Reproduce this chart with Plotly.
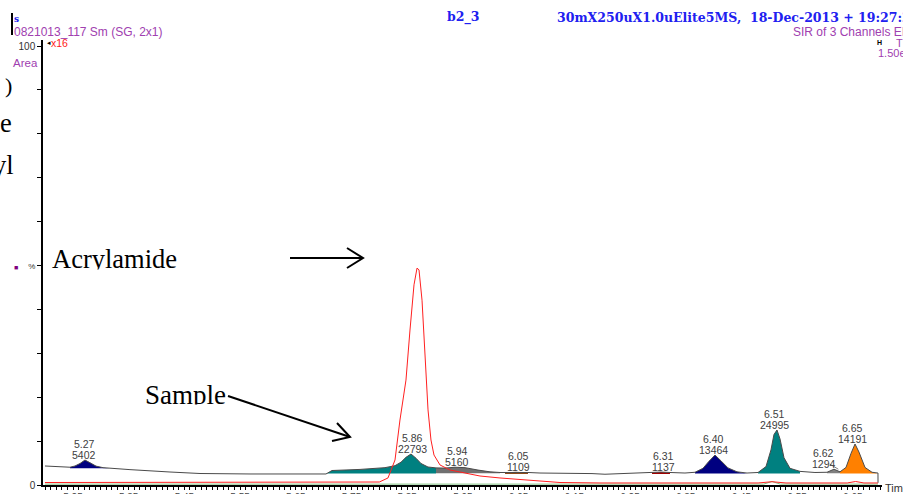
import numpy as np
import plotly.graph_objects as go

# ---------------- data ----------------
# SIR chromatogram of the sample (time in min, % of full scale)
main_time = [5.1997, 5.2267, 5.2446, 5.2536, 5.2626, 5.2715, 5.2805, 5.2913, 5.3039, 5.3164,
             5.3523, 5.4241, 5.4780, 5.5678, 5.6575, 5.7042, 5.7150, 5.7653, 5.8101, 5.8281,
             5.8389, 5.8478, 5.8568, 5.8658, 5.8748, 5.8873, 5.9017, 5.9179, 5.9358, 5.9538,
             5.9771, 5.9987, 6.0166, 6.0256, 6.0453, 6.0669, 6.0884, 6.1423, 6.1818, 6.2051,
             6.2356, 6.2679, 6.2895, 6.3057, 6.3218, 6.3487, 6.3667, 6.3810, 6.3918, 6.4026,
             6.4134, 6.4259, 6.4421, 6.4601, 6.4798, 6.4942, 6.5031, 6.5085, 6.5139, 6.5193,
             6.5265, 6.5373, 6.5552, 6.5821, 6.6037, 6.6162, 6.6270, 6.6378, 6.6468, 6.6540,
             6.6611, 6.6719, 6.6845, 6.6952, 6.6953]
main_pct = [4.33, 4.10, 4.05, 4.33, 4.90, 5.69, 5.10, 4.30, 3.95, 3.80,
            3.50, 2.96, 2.62, 2.51, 2.51, 2.51, 3.30, 3.55, 3.95, 4.40,
            5.20, 6.30, 7.06, 6.10, 4.90, 4.10, 3.90, 3.85, 4.05, 3.95,
            3.40, 3.00, 2.85, 2.85, 3.00, 2.85, 2.73, 2.73, 2.60, 2.45,
            2.60, 2.73, 2.85, 2.95, 2.85, 2.73, 2.90, 3.80, 5.40, 6.83,
            5.50, 3.90, 3.00, 2.73, 2.85, 4.20, 8.00, 11.50, 12.53, 10.50,
            6.20, 3.80, 3.10, 2.85, 2.90, 3.60, 3.00, 4.00, 7.20, 9.34,
            7.50, 4.00, 2.90, 2.73, 0.50]

# Acrylamide channel (red)
red_time = [5.1997, 5.8000, 5.8155, 5.8281, 5.8370, 5.8478, 5.8550, 5.8622, 5.8676, 5.8712,
            5.8766, 5.8820, 5.8874, 5.8927, 5.8981, 5.9089, 5.9268, 5.9627, 5.9807, 6.0166,
            6.0705, 6.1243, 6.1961, 6.4800, 6.5050, 6.5300, 6.6400, 6.6550, 6.6700, 6.6952]
red_pct = [0.57, 0.68, 1.60, 5.70, 14.80, 23.90, 35.30, 45.60, 49.40, 49.00,
           42.10, 30.80, 17.10, 10.25, 6.83, 4.56, 3.42, 2.50, 2.05, 1.60,
           1.00, 0.57, 0.46, 0.46, 0.75, 0.46, 0.46, 0.80, 0.46, 0.46]

# third channel (green)
green_time = [5.1997, 6.4900, 6.5050, 6.5200, 6.6952]
green_pct = [0.20, 0.20, 0.80, 0.20, 0.20]

# integrated peaks
peak_rt = ["5.27", "5.86", "5.94", "6.05", "6.31", "6.40", "6.51", "6.62", "6.65"]
peak_area = ["5402", "22793", "5160", "1109", "1137", "13464", "24995", "1294", "14191"]
peak_start = [5.2446, 5.7042, 5.9017, 6.0256, 6.2895, 6.3667, 6.4798, 6.6037, 6.6270]
peak_end = [5.3164, 5.9017, 6.0166, 6.0669, 6.3218, 6.4601, 6.5552, 6.6270, 6.6952]
peak_base = [3.80, 2.60, 2.70, 2.50, 2.50, 2.60, 2.60, 2.70, 2.60]
peak_color = ["#000080", "#008080", "#707070", "#8b4a1a", "#a00000",
              "#000080", "#008080", "#808080", "#ff8000"]

x_tick_labels = ["5.25", "5.35", "5.45", "5.55", "5.65", "5.75", "5.85", "5.95",
                 "6.05", "6.15", "6.25", "6.35", "6.45", "6.55", "6.65"]

# ---------------- layout helpers ----------------
W, H = 903, 494
ML, MT = 43, 40
MR = W - 882
MB = H - 485
PW, PH = W - ML - MR, H - MT - MB


def PX(x):  # page pixel -> paper
    return (x - ML) / PW


def PY(y):
    return (H - MB - y) / PH


fig = go.Figure()

t = np.array(main_time)
v = np.array(main_pct)
for s, e, b, c in zip(peak_start, peak_end, peak_base, peak_color):
    m = (t >= s) & (t <= e)
    xs = list(t[m]) + [e, s]
    ys = list(v[m]) + [b, b]
    fig.add_trace(go.Scatter(x=xs, y=ys, mode="lines", fill="toself", fillcolor=c,
                             line=dict(width=0, color=c), hoverinfo="skip"))

fig.add_trace(go.Scatter(x=main_time, y=main_pct, mode="lines",
                         line=dict(color="#4a4a4a", width=1), hoverinfo="skip"))
fig.add_trace(go.Scatter(x=green_time, y=green_pct, mode="lines",
                         line=dict(color="#80c080", width=1), hoverinfo="skip"))
fig.add_trace(go.Scatter(x=red_time, y=red_pct, mode="lines",
                         line=dict(color="#ff2020", width=1), hoverinfo="skip"))

ann = []
lab_font = dict(family="Liberation Sans, Arial", size=10.5, color="#404040")
for i, (rt, area) in enumerate(zip(peak_rt, peak_area)):
    m = (t >= peak_start[i]) & (t <= peak_end[i])
    apex = float(v[m].max())
    xpos = float(rt)
    if rt == "6.62":
        ann.append(dict(x=xpos + 0.004, y=apex, xref="x", yref="y", text="", showarrow=True,
                        arrowhead=0, arrowcolor="#808080", arrowwidth=1, ax=-10, ay=-6))
        xpos = xpos - 0.022
    ann.append(dict(x=xpos, y=apex, xref="x", yref="y", text=area, showarrow=False,
                    yanchor="bottom", yshift=-3, font=lab_font))
    ann.append(dict(x=xpos, y=apex, xref="x", yref="y", text=rt, showarrow=False,
                    yanchor="bottom", yshift=8, font=lab_font))


def txt(x, y, s, size, color, family="Liberation Sans, Arial", xanchor="left", **kw):
    ann.append(dict(x=PX(x), y=PY(y), xref="paper", yref="paper", text=s, showarrow=False,
                    xanchor=xanchor, yanchor="middle", font=dict(family=family, size=size, color=color), **kw))


serif = "Liberation Serif, Times New Roman, serif"
hdr = "DejaVu Serif, serif"
blue = "#2020f0"
purple = "#a040b0"

txt(445, 17, "<b>b2_3</b>", 12.5, blue, family=hdr)
txt(555, 17, "<b>30mX250uX1.0uElite5MS,  18-Dec-2013 + 19:27:2</b>", 12.5, blue, family=hdr)
txt(12, 19, "<b>s</b>", 9, blue, family=hdr)
txt(12, 32, "0821013_117 Sm (SG, 2x1)", 12, purple)
txt(791, 32, "SIR of 3 Channels EI+", 12, purple)
txt(45, 43, "◂", 7, "#000000")
txt(49, 43, "x16", 10.5, "#ff2020")
txt(875, 43, "<b>H</b>", 7, "#000000")
txt(894, 43, "T", 11, purple)
txt(876, 53, "1.50e3", 11, purple)
txt(11, 63, "Area", 11.5, purple)
txt(12, 267, "■", 7, "#800080")
txt(883, 488, "Time", 11, "#333333")

# slide overlay text
txt(50, 259, "Acrylamide", 26.5, "#000000", family=serif)
txt(143, 395, "Sample", 27, "#000000", family=serif)
txt(14, 123, "e", 26.5, "#000000", family=serif, xanchor="right")
txt(16, 165, "yl", 26.5, "#000000", family=serif, xanchor="right")
txt(14, 85, ")", 22, "#000000", family=serif, xanchor="right")
# clip the descenders as in the screenshot
ann.append(dict(x=PX(50), y=PY(269), xref="paper", yref="paper", text="", showarrow=False,
                xanchor="left", yanchor="top", width=135, height=9, bgcolor="#ffffff"))
ann.append(dict(x=PX(143), y=PY(404), xref="paper", yref="paper", text="", showarrow=False,
                xanchor="left", yanchor="top", width=88, height=9, bgcolor="#ffffff"))

shapes = []


def seg(pts, width=2):
    d = "M " + " L ".join(f"{PX(x):.5f},{PY(y):.5f}" for x, y in pts)
    shapes.append(dict(type="path", path=d, xref="paper", yref="paper",
                       line=dict(color="#000000", width=width)))


seg([(290, 258), (363, 258)])
seg([(347, 248), (363, 258), (347, 268)])
seg([(228, 396), (350, 437)])
seg([(337, 423), (350, 437), (332, 441)])
seg([(12, 13), (12, 35)], width=2)

fig.update_layout(
    width=W, height=H,
    margin=dict(l=ML, r=MR, t=MT, b=MB, pad=0),
    paper_bgcolor="#ffffff", plot_bgcolor="#ffffff",
    showlegend=False,
    annotations=ann, shapes=shapes,
    font=dict(family="Liberation Sans, Arial", size=10, color="#333333"),
)
fig.update_xaxes(range=[5.25 - 30 / 557, 5.25 + 809 / 557], showgrid=False, zeroline=False,
                 showline=True, linecolor="#000000", linewidth=1.5,
                 tickmode="array", tickvals=[float(s) for s in x_tick_labels], ticktext=x_tick_labels,
                 ticks="outside", ticklen=3, tickcolor="#000000", tickwidth=1,
                 ticklabelstandoff=-1,
                 minor=dict(dtick=0.01, tick0=5.25, ticks="outside", ticklen=3, tickcolor="#000000", tickwidth=1),
                 tickfont=dict(size=10, color="#444444"), automargin=False)
fig.update_yaxes(range=[0, 445 / 4.39], showgrid=False, zeroline=False,
                 showline=True, linecolor="#000000", linewidth=1.5,
                 tickmode="array", tickvals=[0, 50, 100],
                 ticktext=["0", "<span style='font-size:8px'>%</span>", "100"],
                 ticks="outside", ticklen=4, tickcolor="#000000", tickwidth=1,
                 minor=dict(dtick=10, tick0=0, ticks="outside", ticklen=4, tickcolor="#000000", tickwidth=1),
                 tickfont=dict(size=10, color="#333333"), automargin=False)

# the page is shown without the browser's default body margin
fig.write_html("out.html", config={"displayModeBar": False},
               post_script="document.body.style.margin='0';")
